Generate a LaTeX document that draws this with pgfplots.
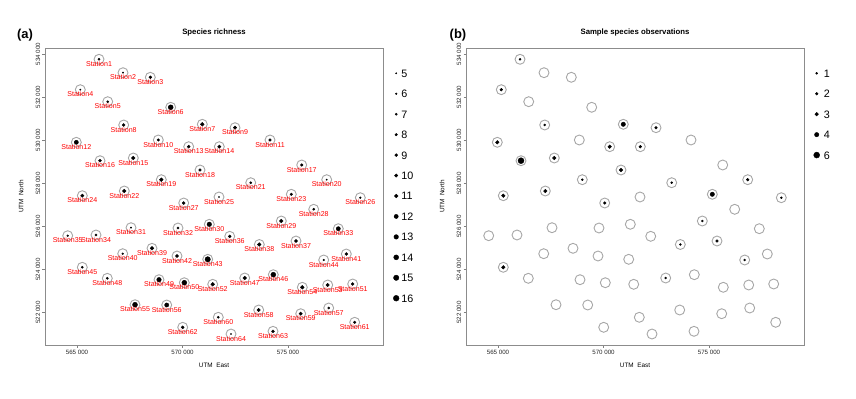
\documentclass[border=0pt]{standalone}
\usepackage{pgfplots}
\pgfplotsset{compat=1.18}
\usepackage{pgfplotstable}
\usepackage{fontspec}
\setmainfont{Liberation Sans}

\pgfplotstableread{
x y rich obs lab
566043 533754 7 1 Station1
567180 533132 5 0 Station2
568474 532919 9 0 Station3
565156 532344 5 2 Station4
566455 531787 7 0 Station5
569440 531527 14 0 Station6
570938 530738 11 4 Station7
567213 530706 9 1 Station8
572488 530580 10 2 Station9
568853 530010 8 0 Station10
574146 530010 8 0 Station11
564967 529903 12 3 Station12
570293 529699 9 3 Station13
571744 529699 10 2 Station14
567668 529174 11 3 Station15
566090 529049 9 6 Station16
575649 528850 8 0 Station17
570829 528618 8 3 Station18
568995 528168 11 1 Station19
576833 528168 5 2 Station20
573232 528028 7 1 Station21
567242 527643 11 3 Station22
575156 527490 8 4 Station23
565251 527425 10 3 Station24
571729 527365 5 0 Station25
578426 527332 6 1 Station26
570057 527086 9 2 Station27
576217 526794 7 0 Station28
574682 526251 11 1 Station29
571270 526098 13 0 Station30
567559 525940 5 0 Station31
569786 525926 7 0 Station32
577383 525894 12 0 Station33
565900 525602 7 0 Station34
564559 525569 6 0 Station35
572237 525541 9 0 Station36
575378 525323 10 2 Station37
573639 525161 11 1 Station38
568554 524984 11 0 Station39
567166 524734 6 0 Station40
577762 524720 9 0 Station41
569739 524627 10 0 Station42
571194 524474 15 0 Station43
576691 524442 6 1 Station44
565251 524103 7 3 Station45
574303 523760 14 0 Station46
572947 523606 11 1 Station47
566436 523592 7 0 Station48
568886 523528 13 0 Station49
570085 523388 14 0 Station50
578065 523328 9 0 Station51
571431 523314 11 0 Station52
576881 523282 10 0 Station53
575677 523175 11 0 Station54
567749 522367 14 0 Station55
569251 522354 12 0 Station56
576928 522214 7 0 Station57
573611 522122 10 0 Station58
575601 521950 10 0 Station59
571696 521783 7 0 Station60
578160 521551 8 0 Station61
570009 521319 9 0 Station62
574288 521133 9 0 Station63
572298 521008 5 0 Station64
}\data

\pgfplotsset{
  mapstyle/.style={
    scale only axis, width=338bp, height=297bp,
    xmin=563483, xmax=579501, ymin=520498, ymax=534278,
    scaled ticks=false,
    axis line style={black!45, line width=0.6bp},
    tick style={black!50, line width=0.5bp},
    tick align=outside, major tick length=2.5bp,
    xtick pos=left, ytick pos=left,
    xtick={565000,570000,575000},
    xticklabels={565 000,570 000,575 000},
    ytick={522000,524000,526000,528000,530000,532000,534000},
    yticklabels={522 000,524 000,526 000,528 000,530 000,532 000,534 000},
    ticklabel style={font=\fontsize{6.2}{7}\selectfont, text=black!85, inner sep=2bp},
    yticklabel style={rotate=90, anchor=south},
    xlabel={UTM\ \ East}, ylabel={UTM\ \ North},
    xlabel style={font=\fontsize{6.4}{7}\selectfont, at={(axis description cs:0.5,-0.0673)}, anchor=center},
    ylabel style={font=\fontsize{6.4}{7}\selectfont, at={(axis description cs:-0.071,0.5)}, anchor=center},
    title style={font=\bfseries\fontsize{7.8}{9}\selectfont, at={(axis description cs:0.5,1.0337)}, anchor=center},
    legend image code/.code={\draw[#1] plot coordinates {(0bp,0bp)};},
    legend cell align=left,
  },
}

\begin{document}
\begin{tikzpicture}
\useasboundingbox (0,0) rectangle (856bp,399bp);

% ---------------- (a) ----------------
\begin{axis}[mapstyle, at={(45bp,54bp)}, anchor=south west,
  title={Species richness},
  legend style={draw=none, fill=none, inner sep=0pt, outer sep=0pt,
    at={(axis description cs:1.0305,0.9283)}, anchor=north west,
    row sep=12.45bp, column sep=2.3bp,
    nodes={inner sep=0pt, text height=8bp, text depth=0pt, font=\fontsize{10.8}{12}\selectfont}},
  after end axis/.code={\node[font=\bfseries\fontsize{13}{15}\selectfont] at (axis description cs:-0.0592,1.0438) {(a)};}
]
\addlegendimage{black, mark=*, mark size=0.7}\addlegendentry{5}
\addlegendimage{black, mark=*, mark size=0.9}\addlegendentry{6}
\addlegendimage{black, mark=*, mark size=1.1}\addlegendentry{7}
\addlegendimage{black, mark=*, mark size=1.3}\addlegendentry{8}
\addlegendimage{black, mark=*, mark size=1.5}\addlegendentry{9}
\addlegendimage{black, mark=*, mark size=1.7}\addlegendentry{10}
\addlegendimage{black, mark=*, mark size=1.9}\addlegendentry{11}
\addlegendimage{black, mark=*, mark size=2.1}\addlegendentry{12}
\addlegendimage{black, mark=*, mark size=2.3}\addlegendentry{13}
\addlegendimage{black, mark=*, mark size=2.5}\addlegendentry{14}
\addlegendimage{black, mark=*, mark size=2.7}\addlegendentry{15}
\addlegendimage{black, mark=*, mark size=2.9}\addlegendentry{16}

\addplot[forget plot, only marks, mark=o, mark size=5, color=black!35, mark options={line width=0.9bp}]
  table[x=x, y=y] {\data};
\addplot[forget plot, scatter, only marks, mark=*,
  scatter/use mapped color={draw=black, fill=black},
  visualization depends on={0.7+0.2*(\thisrow{rich}-5) \as \msize},
  scatter/@pre marker code/.append style={/tikz/mark size=\msize}]
  table[x=x, y=y] {\data};
\addplot[forget plot, only marks, mark=none,
  nodes near coords, point meta=explicit symbolic,
  every node near coord/.append style={anchor=center, yshift=-4.6bp, inner sep=0pt,
    font=\fontsize{7.1}{8}\selectfont, text=red}]
  table[x=x, y=y, meta=lab] {\data};
\end{axis}

% ---------------- (b) ----------------
\begin{axis}[mapstyle, at={(466bp,54bp)}, anchor=south west,
  title={Sample species observations},
  legend style={draw=none, fill=none, inner sep=0pt, outer sep=0pt,
    at={(axis description cs:1.0287,0.9283)}, anchor=north west,
    row sep=12.45bp, column sep=4.2bp,
    nodes={inner sep=0pt, text height=8bp, text depth=0pt, font=\fontsize{10.8}{12}\selectfont}},
  after end axis/.code={\node[font=\bfseries\fontsize{13}{15}\selectfont] at (axis description cs:-0.0237,1.0438) {(b)};}
]
\addlegendimage{black, mark=*, mark size=1.0}\addlegendentry{1}
\addlegendimage{black, mark=*, mark size=1.4}\addlegendentry{2}
\addlegendimage{black, mark=*, mark size=1.8}\addlegendentry{3}
\addlegendimage{black, mark=*, mark size=2.2}\addlegendentry{4}
\addlegendimage{black, mark=*, mark size=3.0}\addlegendentry{6}

\addplot[forget plot, only marks, mark=o, mark size=5, color=black!35, mark options={line width=0.9bp}]
  table[x=x, y=y] {\data};
\addplot[forget plot, scatter, only marks, mark=*,
  restrict expr to domain={\thisrow{obs}}{0.5:100},
  scatter/use mapped color={draw=black, fill=black},
  visualization depends on={1.0+0.4*(\thisrow{obs}-1) \as \msize},
  scatter/@pre marker code/.append style={/tikz/mark size=\msize}]
  table[x=x, y=y] {\data};
\end{axis}
\end{tikzpicture}
\end{document}
